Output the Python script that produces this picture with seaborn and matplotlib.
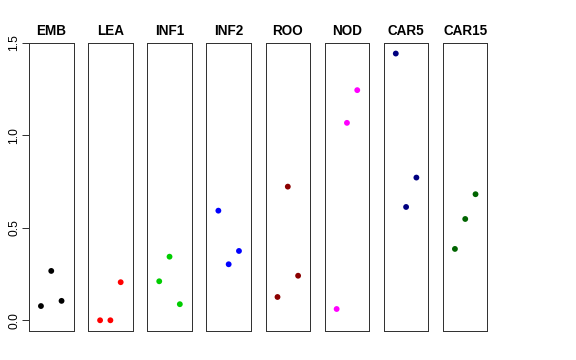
import numpy as np
import pandas as pd
import matplotlib
matplotlib.use("Agg")
import matplotlib.pyplot as plt
import seaborn as sns

sns.set_style("white")
plt.rcParams["font.family"] = ["Liberation Sans", "DejaVu Sans"]
plt.rcParams["text.color"] = "black"
plt.rcParams["ytick.color"] = "black"

# data
tissues = ["EMB", "LEA", "INF1", "INF2", "ROO", "NOD", "CAR5", "CAR15"]
colors = ["#000000", "#FF0000", "#00CD00", "#0000FF",
          "#8B0000", "#FF00FF", "#000080", "#006400"]
rep = [1, 2, 3]
emb = [0.077, 0.267, 0.105]
lea = [0.0, 0.0, 0.206]
inf1 = [0.211, 0.344, 0.087]
inf2 = [0.593, 0.303, 0.375]
roo = [0.126, 0.723, 0.241]
nod = [0.061, 1.068, 1.245]
car5 = [1.443, 0.613, 0.772]
car15 = [0.386, 0.548, 0.682]
values = [emb, lea, inf1, inf2, roo, nod, car5, car15]

df = pd.DataFrame({
    "tissue": np.repeat(tissues, 3),
    "rep": rep * len(tissues),
    "expr": np.concatenate(values),
})

W, H = 576, 360
fig = plt.figure(figsize=(8, 5), dpi=72)
for i, (t, c) in enumerate(zip(tissues, colors)):
    left = 29 + i * 59.14
    ax = fig.add_axes([left / W, 29 / H, 44.5 / W, 288 / H])
    sub = df[df["tissue"] == t]
    sns.scatterplot(data=sub, x="rep", y="expr", color=c, s=34,
                    edgecolor="none", ax=ax, clip_on=False)
    ax.set_xlim(-0.16, 4.16)
    ax.set_ylim(-0.058, 1.5)
    ax.set_xlabel("")
    ax.set_ylabel("")
    ax.set_xticks([])
    ax.set_title(t, fontsize=13.5, fontweight="bold", pad=8, color="black")
    for sp in ax.spines.values():
        sp.set_visible(True)
        sp.set_color("#333333")
        sp.set_linewidth(1)
    if i == 0:
        ax.set_yticks([0, 0.5, 1.0, 1.5])
        ax.set_yticklabels(["0.0", "0.5", "1.0", "1.5"], rotation=90,
                           va="center", fontsize=12)
        ax.tick_params(axis="y", left=True, length=7, width=1,
                       color="#333333", pad=2)
    else:
        ax.set_yticks([])

fig.savefig("out.png", dpi=72)
